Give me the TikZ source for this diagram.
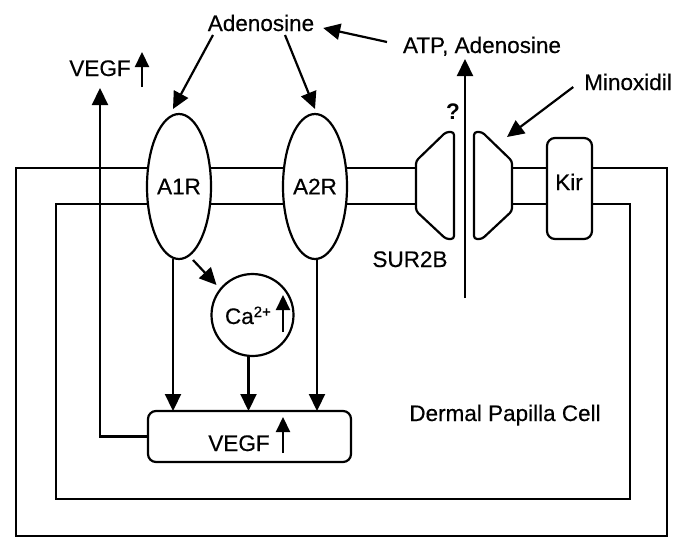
\documentclass[tikz,border=0pt]{standalone}
\usepackage{fontspec}
\setmainfont{Liberation Sans}[UprightFeatures={FakeBold=0.4}]
\usetikzlibrary{arrows.meta,shapes.geometric,calc}
\begin{document}
\begin{tikzpicture}[x=1pt,y=-1pt,
  every node/.style={font=\fontsize{22.5}{26}\selectfont, inner sep=0pt, outer sep=0pt},
  ln/.style={line width=2.3pt},
  arr/.style={line width=2.2pt,-{Triangle[length=17pt,width=16pt]}},
  sarr/.style={line width=2.2pt,-{Triangle[length=15pt,width=14pt]}},
  rec/.style={ellipse,draw,line width=2.2pt,fill=white,minimum width=64pt,minimum height=145pt},
  chan/.style={draw,line width=2.2pt,fill=white,rounded corners=3pt,line join=round},
  rbox/.style={draw,line width=2.2pt,fill=white,rounded corners=8pt},
  txt/.style={anchor=base}
]
\useasboundingbox (0,0) rectangle (684,538);
% cell membrane (double line)
\draw[ln] (430,168) -- (16,168) -- (16,536) -- (667,536) -- (667,168) -- (498,168);
\draw[ln] (430,204) -- (56,204) -- (56,499) -- (630,499) -- (630,204) -- (498,204);
% receptors
\node[rec] (A1R) at (179,186.5) {A1R};
\node[rec] (A2R) at (315,186.5) {A2R};
% SUR2B halves
\draw[chan] (416,161) -- (446,132) -- (454,132) -- (454,239) -- (446,239) -- (416,211) -- cycle;
\draw[chan] (512,161) -- (482,132) -- (474,132) -- (474,239) -- (482,239) -- (512,211) -- cycle;
\coordinate (surR) at (512,161);
% Kir
\node[rbox,minimum width=45pt,minimum height=101pt] (Kir) at (569.5,188.5) {};
\node[txt] (kirtxt) at (569,190) {Kir};
% Ca circle
\node[circle,draw,line width=2.2pt,fill=white,minimum size=82pt] (Ca) at (252.5,315) {};
\node[anchor=base west] (catxt) at (225,324) {Ca\raisebox{7pt}{\fontsize{15}{15}\selectfont 2+}};
\draw[sarr] (283,332) -- (283,295);
% VEGF box
\node[rbox,minimum width=203pt,minimum height=51pt] (box) at (249.5,436.5) {};
\node[txt] (boxtxt) at (239,451) {VEGF};
\draw[sarr] (283,453) -- (283,417);
% labels
\node[txt] (aden) at (261,31) {Adenosine};
\node[txt] (atp) at (482,53) {ATP, Adenosine};
\node[txt] (minox) at (628,90) {Minoxidil};
\node[txt] (vegft) at (100,76) {VEGF};
\draw[sarr] (142,87) -- (142,52);
\node[txt] (sur) at (410,267) {SUR2B};
\node[txt,font=\fontsize{22.5}{26}\selectfont\bfseries] (q) at (453,119) {?};
\node[txt] (dpc) at (505,421) {Dermal Papilla Cell};
% connectors
\draw[arr] ($(aden.base)+(-48,4)$) -- ($(A1R.north)+(-6,-5)$);
\draw[arr] ($(aden.base)+(24,4)$) -- ($(A2R.north)+(0,-5)$);
\draw[arr] ($(atp.base)+(-95,-11)$) -- ($(aden.base east)+(9,-3)$);
\draw[arr] ($(minox.base west)+(-11,-3)$) -- ($(surR)+(-5,-24)$);
\coordinate (poreBot) at (465,298);
\coordinate (poreTop) at ($(atp.base west)+(65,6)$);
\draw[arr] (poreBot) -- (poreBot |- poreTop);
\coordinate (vtip) at ($(vegft.base)+(0,12)$);
\draw[arr] (box.west) -| (vtip);
\coordinate (a1d) at ($(A1R.south)+(-6,0)$);
\draw[arr] (a1d) -- (a1d |- box.north);
\coordinate (a2d) at ($(A2R.south)+(2,0)$);
\draw[arr] (a2d) -- (a2d |- box.north);
\coordinate (cad) at ($(Ca.south)+(-4,0)$);
\draw[arr] (cad) -- (cad |- box.north);
\draw[arr] ($(A1R.south)+(14,1)$) -- ($(Ca.center)+(-36,-30)$);
\end{tikzpicture}
\end{document}
